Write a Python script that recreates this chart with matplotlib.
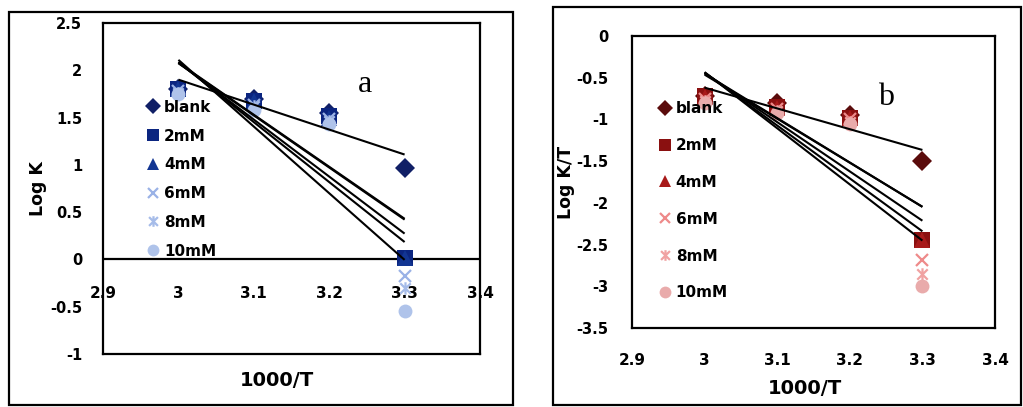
import numpy as np
import matplotlib
matplotlib.use("Agg")
import matplotlib.pyplot as plt
from matplotlib.path import Path
from matplotlib.patches import Rectangle

# 1000/T values
x = [3.0, 3.1, 3.2, 3.3]
series = ["blank", "2mM", "4mM", "6mM", "8mM", "10mM"]

# Log K
logk = {
    "blank": [1.80, 1.70, 1.55, 0.97],
    "2mM":   [1.80, 1.68, 1.52, 0.02],
    "4mM":   [1.80, 1.67, 1.50, 0.02],
    "6mM":   [1.78, 1.63, 1.48, -0.18],
    "8mM":   [1.76, 1.62, 1.46, -0.30],
    "10mM":  [1.75, 1.58, 1.43, -0.55],
}

# Log K/T
logkt = {
    "blank": [-0.72, -0.80, -0.95, -1.50],
    "2mM":   [-0.72, -0.85, -0.98, -2.45],
    "4mM":   [-0.73, -0.86, -0.98, -2.45],
    "6mM":   [-0.75, -0.88, -1.00, -2.68],
    "8mM":   [-0.78, -0.90, -1.03, -2.85],
    "10mM":  [-0.80, -0.92, -1.05, -3.00],
}

# x with a vertical bar (excel "star")
star = Path([(-1, -1), (1, 1), (-1, 1), (1, -1), (0, -1.2), (0, 1.2)],
            [Path.MOVETO, Path.LINETO, Path.MOVETO, Path.LINETO, Path.MOVETO, Path.LINETO])

markers = {"blank": ("D", 10), "2mM": ("s", 11), "4mM": ("^", 11),
           "6mM": ("x", 9), "8mM": (star, 9), "10mM": ("o", 10)}

blues = {"blank": "#101f66", "2mM": "#0b2580", "4mM": "#123592",
         "6mM": "#9ab2e6", "8mM": "#a6bce9", "10mM": "#afc3ea"}
reds = {"blank": "#5a0b0b", "2mM": "#8a1010", "4mM": "#a81a1a",
        "6mM": "#ee8a8a", "8mM": "#f0a2a2", "10mM": "#e9abab"}

plt.rcParams["font.family"] = "DejaVu Sans"
plt.rcParams["font.weight"] = "bold"

fig = plt.figure(figsize=(10.23, 4.07), dpi=100)
W, H = 1023.0, 407.0


def px_axes(l, r, t, b):
    return [l / W, (H - b) / H, (r - l) / W, (b - t) / H]


def panel(ax, data, colors, ylim, yticks, ylabel, leg_xy, labelspacing):
    for s in series:
        m, ms = markers[s]
        kw = dict(mew=1.6) if s in ("6mM", "8mM") else dict(mew=0)
        ax.plot(x, data[s], ls="none", marker=m, ms=ms, color=colors[s],
                label=s, zorder=3, **kw)
    # linear trendlines
    xx = np.array([x[0], x[-1]])
    for s in series:
        p = np.polyfit(x, data[s], 1)
        ax.plot(xx, np.polyval(p, xx), color="black", lw=1.5, zorder=4,
                solid_capstyle="butt")
    ax.set_xlim(2.9, 3.4)
    ax.set_ylim(*ylim)
    ax.set_xticks([2.9, 3.0, 3.1, 3.2, 3.3, 3.4])
    ax.set_xticklabels(["2.9", "3", "3.1", "3.2", "3.3", "3.4"])
    ax.set_yticks(yticks)
    ax.set_yticklabels([("%g" % v) for v in yticks])
    for sp in ax.spines.values():
        sp.set_linewidth(1.6)
    ax.set_ylabel(ylabel, fontsize=12.5, fontweight="bold")
    ax.set_xlabel("1000/T", fontsize=14, fontweight="bold")
    ax.xaxis.label.set_va("center")
    ax.yaxis.label.set_va("center")
    leg = ax.legend(loc="upper left", bbox_to_anchor=leg_xy, frameon=False,
                    fontsize=11, handlelength=0.8, handletextpad=0.3,
                    borderpad=0, borderaxespad=0, labelspacing=labelspacing,
                    markerscale=0.85)
    for t in leg.get_texts():
        t.set_fontweight("bold")


# panel a
axa = fig.add_axes(px_axes(103, 480, 23, 354))
panel(axa, logk, blues, (-1, 2.5), [-1, -0.5, 0, 0.5, 1, 1.5, 2, 2.5],
      "Log K", (0.117, 0.768), 0.9)
axa.axhline(0, color="black", lw=1.6, zorder=2)
axa.tick_params(axis="x", length=0, pad=-49, labelsize=11)
axa.tick_params(axis="y", length=0, pad=15, labelsize=10.5)
axa.yaxis.set_label_coords((38 - 103) / 377.0, 0.5)
axa.xaxis.set_label_coords((277 - 103) / 377.0, (354 - 380) / 331.0)
axa.text(0.695, 0.813, "a", transform=axa.transAxes, fontsize=23,
         family="Liberation Serif", fontweight="normal", ha="center", va="center")

# panel b
axb = fig.add_axes(px_axes(632, 995, 36, 328))
panel(axb, logkt, reds, (-3.5, 0), [-3.5, -3, -2.5, -2, -1.5, -1, -0.5, 0],
      "Log K/T", (0.074, 0.777), 1.43)
axb.tick_params(axis="x", length=0, pad=18, labelsize=11)
axb.tick_params(axis="y", length=0, pad=17, labelsize=10.5)
axb.yaxis.set_label_coords((566 - 632) / 363.0, 0.5)
axb.xaxis.set_label_coords((805 - 632) / 363.0, (328 - 388) / 292.0)
axb.text(0.70, 0.79, "b", transform=axb.transAxes, fontsize=23,
         family="Liberation Serif", fontweight="normal", ha="center", va="center")

# outer frames
for l, r, t, b in [(9, 513, 12, 405), (553, 1021, 7, 405)]:
    fig.add_artist(Rectangle((l / W, (H - b) / H), (r - l) / W, (b - t) / H,
                             transform=fig.transFigure, fill=False,
                             edgecolor="black", lw=1.6))

fig.savefig("out.png", dpi=100)
